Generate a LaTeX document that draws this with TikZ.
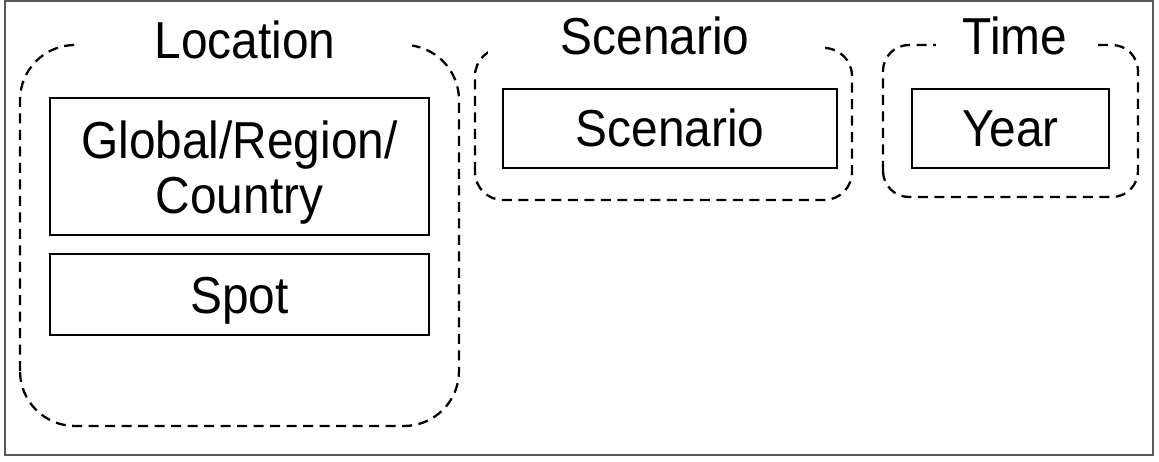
\documentclass[tikz,border=0pt]{standalone}
\usepackage{fontspec}
\setmainfont[FakeStretch=0.92]{Liberation Sans}
\begin{document}
\begin{tikzpicture}[x=1pt,y=1pt,
  bigfont/.style={font=\fontsize{52}{55}\selectfont},
  grp/.style={draw=black, line width=2.3pt, dash pattern=on 10pt off 6.5pt},
  grplabel/.style={bigfont, fill=white, inner sep=0pt, text height=37pt, text depth=0pt, minimum height=40pt},
  itembox/.style={draw=black, line width=1.5pt, bigfont, inner sep=0pt, text height=37pt, text depth=0pt},
]
\useasboundingbox (0,0) rectangle (1159,461);
\draw[draw=black!65, line width=1.3pt] (5,6) rectangle (1153,460);
% groups
\draw[grp, rounded corners=55pt] (20,35) rectangle (459,416);
\draw[grp, rounded corners=28pt] (475,261) rectangle (852,413);
\draw[grp, rounded corners=26pt] (883,264) rectangle (1138,416);
% group labels
\node[grplabel, minimum width=333pt] (loclabel) at (245,420.5) {Location};
\node[grplabel, minimum width=334pt] (scenlabel) at (655,424.5) {Scenario};
\node[grplabel, minimum width=158pt] (timelabel) at (1015,424.5) {Time};
% items
\node[draw=black, line width=1.5pt, bigfont, inner sep=0pt, align=center, minimum width=379pt, minimum height=137pt] (global) at (239.5,294.5) {\rule{0pt}{50pt}Global/Region/\\Country};
\node[itembox, minimum width=379pt, minimum height=81pt] (spot) at (239.5,166.5) {Spot};
\node[itembox, minimum width=334pt, minimum height=79pt] (scen) at (670,332.5) {Scenario};
\node[itembox, minimum width=197pt, minimum height=79pt] (year) at (1010.5,332.5) {Year};
\end{tikzpicture}
\end{document}
